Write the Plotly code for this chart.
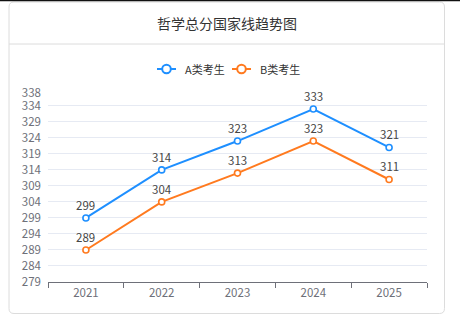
import plotly.graph_objects as go

# Series data
years = ["2021", "2022", "2023", "2024", "2025"]
scores_a = [299, 314, 323, 333, 321]
scores_b = [289, 304, 313, 323, 311]
y_ticks = [279, 284, 289, 294, 299, 304, 309, 314, 319, 324, 329, 334, 338]

series_names = ["A类考生", "B类考生"]
series_colors = ["#1E8FFF", "#FF7A1F"]
title_text = "哲学总分国家线趋势图"

W, H = 460, 326
ML, MR, MT, MB = 48, 33, 93, 44
PW, PH = W - ML - MR, H - MT - MB

FONT = "Noto Sans CJK SC, Noto Sans, sans-serif"


def px_x(x):
    return (x - ML) / PW


def px_y(y):
    return (H - MB - y) / PH


def rounded_rect(x0, y0, x1, y1, r):
    pts = [
        ("M", x0 + r, y0), ("L", x1 - r, y0), ("Q", x1, y0, x1, y0 + r),
        ("L", x1, y1 - r), ("Q", x1, y1, x1 - r, y1), ("L", x0 + r, y1),
        ("Q", x0, y1, x0, y1 - r), ("L", x0, y0 + r), ("Q", x0, y0, x0 + r, y0),
    ]
    parts = []
    for p in pts:
        cmd, coords = p[0], p[1:]
        vals = []
        for i in range(0, len(coords), 2):
            vals.append(f"{px_x(coords[i]):.5f},{px_y(coords[i + 1]):.5f}")
        parts.append(cmd + " ".join(vals))
    return " ".join(parts) + " Z"


fig = go.Figure()

for name, vals, color in zip(series_names, [scores_a, scores_b], series_colors):
    fig.add_trace(go.Scatter(
        x=years, y=vals, name=name, mode="lines+markers",
        line=dict(color=color, width=2),
        marker=dict(size=6, color="white", line=dict(color=color, width=1.6)),
        showlegend=False, hoverinfo="x+y",
    ))

annotations = []
# value labels above each point (category index positions)
for vals in [scores_a, scores_b]:
    for i, v in enumerate(vals):
        annotations.append(dict(
            x=i, y=v, xref="x", yref="y", text=str(v), showarrow=False,
            yshift=13, font=dict(family=FONT, size=11.5, color="#464646"),
        ))

# chart title
annotations.append(dict(
    x=px_x(227), y=px_y(23), xref="paper", yref="paper", text=title_text,
    showarrow=False, xanchor="center", yanchor="middle",
    font=dict(family=FONT, size=14, color="#333333"),
))

shapes = []
# card outline and header divider
shapes.append(dict(type="path", xref="paper", yref="paper",
                   path=rounded_rect(9, 2, 444.5, 313.5, 5),
                   line=dict(color="#DCDCDC", width=1), fillcolor="rgba(0,0,0,0)",
                   layer="below"))
shapes.append(dict(type="line", xref="paper", yref="paper",
                   x0=px_x(9), x1=px_x(444.5), y0=px_y(44), y1=px_y(44),
                   line=dict(color="#DCDCDC", width=1)))
# top edge strip
shapes.append(dict(type="line", xref="paper", yref="paper",
                   x0=px_x(0), x1=px_x(W), y0=px_y(0.5), y1=px_y(0.5),
                   line=dict(color="#111111", width=1.5)))

# legend
legend_items = [(157, 176, 166.5, 183), (232, 251, 241.5, 258)]
ly = 69
for (lx0, lx1, cx, tx), name, color in zip(legend_items, series_names, series_colors):
    shapes.append(dict(type="line", xref="paper", yref="paper",
                       x0=px_x(lx0), x1=px_x(lx1), y0=px_y(ly), y1=px_y(ly),
                       line=dict(color=color, width=2)))
    r = 4.3
    shapes.append(dict(type="circle", xref="paper", yref="paper",
                       x0=px_x(cx - r), x1=px_x(cx + r), y0=px_y(ly - r), y1=px_y(ly + r),
                       line=dict(color=color, width=2), fillcolor="white"))
    annotations.append(dict(
        x=px_x(tx), y=px_y(ly), xref="paper", yref="paper", text=name,
        showarrow=False, xanchor="left", yanchor="middle",
        font=dict(family=FONT, size=11, color="#333333"),
    ))

fig.update_layout(
    width=W, height=H,
    margin=dict(l=ML, r=MR, t=MT, b=MB, pad=0),
    paper_bgcolor="white", plot_bgcolor="white",
    annotations=annotations, shapes=shapes,
    showlegend=False,
    xaxis=dict(
        type="category", tickson="boundaries", ticks="outside", ticklen=5,
        tickcolor="#6E7079", showline=True, linecolor="#6E7079", linewidth=1,
        showgrid=False, zeroline=False,
        tickfont=dict(family=FONT, size=11.5, color="#6E7079"),
        range=[-0.5, 4.5],
    ),
    yaxis=dict(
        range=[y_ticks[0], y_ticks[-1]], tickvals=y_ticks,
        ticktext=[str(t) for t in y_ticks],
        showgrid=True, gridcolor="#E6EAF3", gridwidth=1,
        showline=False, zeroline=False, ticks="",
        ticklabelstandoff=6,
        tickfont=dict(family=FONT, size=11.5, color="#6E7079"),
    ),
)

fig.write_html("out.html")
